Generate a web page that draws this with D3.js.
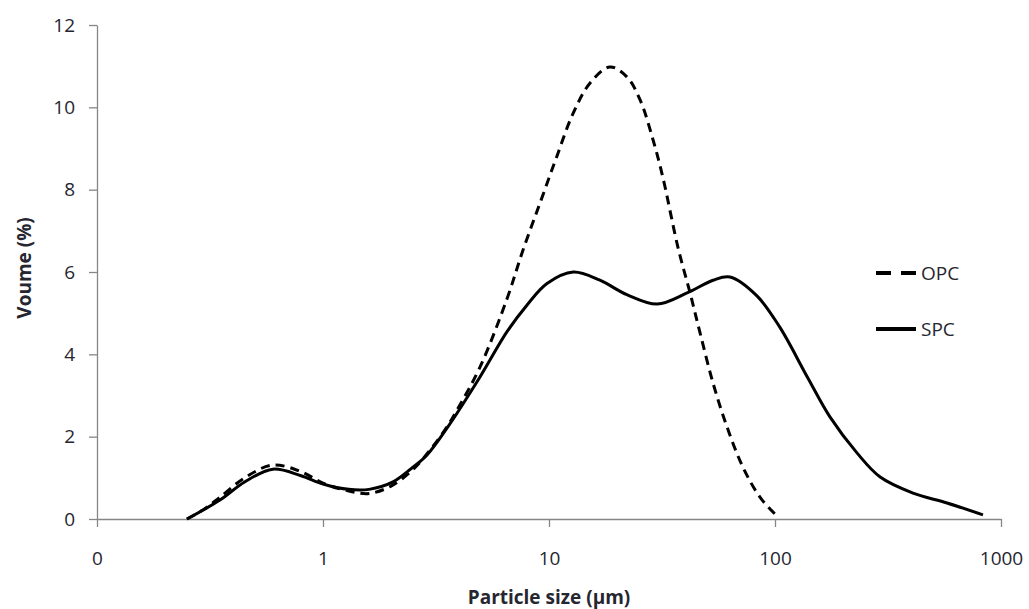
<!DOCTYPE html>
<html>
<head>
<meta charset="utf-8">
<script src="https://cdn.jsdelivr.net/npm/d3@7"></script>
<style>
  body { margin: 0; background: #fff; }
  text { font-family: "Open Sans", sans-serif; }
</style>
</head>
<body>
<svg id="chart"></svg>
<script>
var width = 1029,
    height = 609,
    margin = {top: 25, right: 28, bottom: 90, left: 97};

// particle size (µm) and volume (%)
var opcSize = [0.25, 0.3, 0.35, 0.45, 0.6, 0.8, 1.0, 1.3, 1.6, 2.0, 2.5, 3.0, 3.5, 3.92, 4.95, 6.52, 7.67, 9.13, 10.8, 12.8, 15.2, 18.6, 22.1, 25.3, 28.9, 31.9, 37.2, 42.1, 46.6, 53.2, 61.4, 72.1, 85.8, 100];
var opcVolume = [0, 0.25, 0.53, 1.0, 1.31, 1.15, 0.87, 0.68, 0.62, 0.8, 1.2, 1.7, 2.2, 2.65, 3.69, 5.35, 6.53, 7.68, 8.79, 9.86, 10.59, 10.98, 10.74, 10.18, 9.2, 8.3, 6.6, 5.49, 4.52, 3.3, 2.23, 1.26, 0.53, 0.12];

var spcSize = [0.25, 0.35, 0.45, 0.6, 0.8, 1.0, 1.3, 1.6, 2.04, 2.5, 2.88, 3.53, 4.95, 6.52, 8.0, 9.8, 12.8, 16.8, 22.1, 30.1, 40.8, 53.2, 63.2, 83.2, 105, 139, 175, 231, 292, 408, 577, 832];
var spcVolume = [0, 0.46, 0.9, 1.21, 1.05, 0.85, 0.72, 0.72, 0.9, 1.26, 1.55, 2.2, 3.45, 4.55, 5.2, 5.72, 6.0, 5.8, 5.45, 5.22, 5.49, 5.8, 5.88, 5.42, 4.66, 3.45, 2.48, 1.6, 1.02, 0.63, 0.39, 0.1];

var xTickValues = [0.1, 1, 10, 100, 1000],
    xTickLabels = ['0', '1', '10', '100', '1000'],
    yTickValues = [0, 2, 4, 6, 8, 10, 12];

var seriesNames = ['OPC', 'SPC'];

var svg = d3.select('svg#chart')
    .attr('width', width)
    .attr('height', height);

var x = d3.scaleLog()
    .domain([0.1, 1000])
    .range([margin.left, width - margin.right]);

var y = d3.scaleLinear()
    .domain([0, 12])
    .range([height - margin.bottom, margin.top]);

var axisColor = '#868686',
    labelColor = '#262630';

// y axis
var yAxis = svg.append('g')
    .attr('transform', 'translate(' + margin.left + ',0)')
    .call(d3.axisLeft(y).tickValues(yTickValues).tickSize(8).tickPadding(14).tickSizeOuter(0));

// x axis
var xAxis = svg.append('g')
    .attr('transform', 'translate(0,' + (height - margin.bottom) + ')')
    .call(d3.axisBottom(x).tickValues(xTickValues)
        .tickFormat(function(d, i) { return xTickLabels[i]; })
        .tickSize(8).tickPadding(25).tickSizeOuter(0));

[xAxis, yAxis].forEach(function(ax) {
    ax.select('.domain').attr('stroke', axisColor).attr('stroke-width', 1.3);
    ax.selectAll('.tick line').attr('stroke', axisColor).attr('stroke-width', 1.3);
    ax.selectAll('.tick text')
        .attr('fill', labelColor)
        .style('font-size', '19px')
        .style('font-family', '"Open Sans", sans-serif');
});

var line = d3.line()
    .x(function(d) { return x(d[0]); })
    .y(function(d) { return y(d[1]); })
    .curve(d3.curveCatmullRom.alpha(0.5));

svg.append('path')
    .datum(d3.zip(opcSize, opcVolume))
    .attr('d', line)
    .attr('fill', 'none')
    .attr('stroke', '#000')
    .attr('stroke-width', 3)
    .attr('stroke-dasharray', '9,6');

svg.append('path')
    .datum(d3.zip(spcSize, spcVolume))
    .attr('d', line)
    .attr('fill', 'none')
    .attr('stroke', '#000')
    .attr('stroke-width', 3);

// legend
var legend = svg.append('g').attr('transform', 'translate(876,273)');
seriesNames.forEach(function(name, i) {
    var row = legend.append('g').attr('transform', 'translate(0,' + (i * 56) + ')');
    row.append('line')
        .attr('x1', 0).attr('x2', 40)
        .attr('stroke', '#000')
        .attr('stroke-width', 4)
        .attr('stroke-dasharray', i === 0 ? '15,10' : null);
    row.append('text')
        .attr('x', 45)
        .attr('dy', '0.35em')
        .attr('fill', labelColor)
        .style('font-size', '19px')
        .text(name);
});

// axis titles
svg.append('text')
    .attr('x', (margin.left + width - margin.right) / 2)
    .attr('y', 597)
    .attr('dy', '0.35em')
    .attr('text-anchor', 'middle')
    .attr('fill', labelColor)
    .style('font-size', '19px')
    .style('font-weight', 'bold')
    .text('Particle size (µm)');

svg.append('text')
    .attr('transform', 'translate(24,268) rotate(-90)')
    .attr('dy', '0.35em')
    .attr('text-anchor', 'middle')
    .attr('fill', labelColor)
    .style('font-size', '19px')
    .style('font-weight', 'bold')
    .text('Voume (%)');
</script>
</body>
</html>
